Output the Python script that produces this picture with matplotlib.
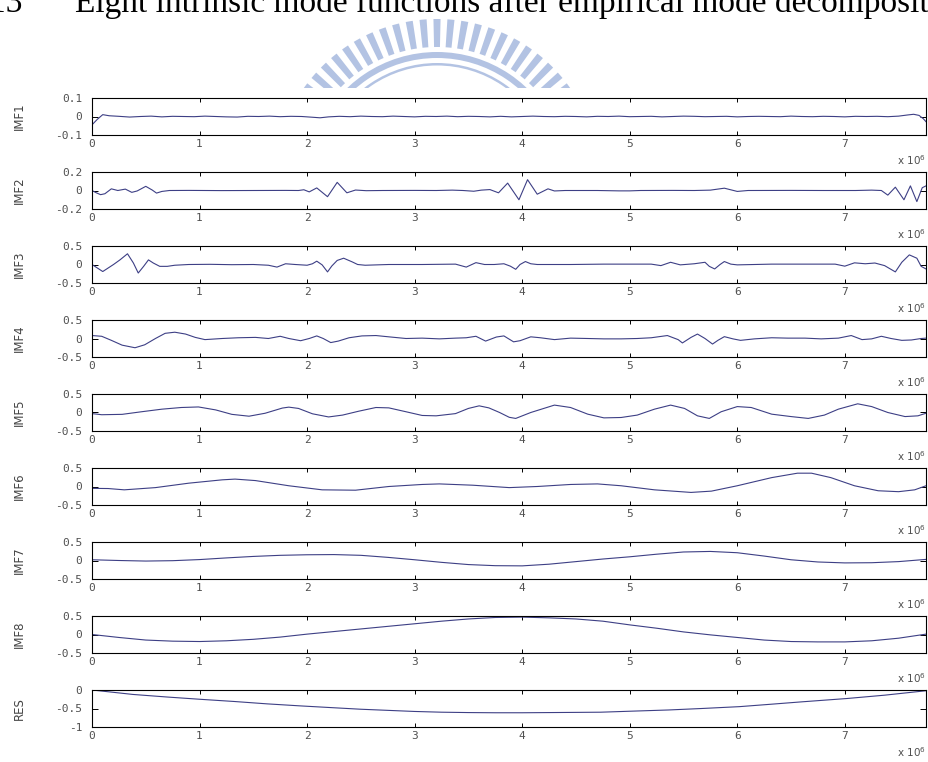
import numpy as np
import matplotlib
matplotlib.use("Agg")
import matplotlib.pyplot as plt
from matplotlib.patches import Wedge, Rectangle

plt.rcParams["axes.unicode_minus"] = False

# ---------------------------------------------------------------------------
# Components of the decomposition; x in units of 10^6 samples
# ---------------------------------------------------------------------------
imf1_x = [0.00, 0.05, 0.10, 0.16, 0.25, 0.35, 0.45, 0.55, 0.65, 0.75,
          0.85, 0.95, 1.05, 1.15, 1.25, 1.35, 1.45, 1.55, 1.65, 1.75,
          1.85, 1.95, 2.05, 2.12, 2.20, 2.30, 2.40, 2.50, 2.60, 2.70,
          2.80, 2.90, 3.00, 3.10, 3.20, 3.30, 3.40, 3.50, 3.60, 3.70,
          3.80, 3.90, 4.00, 4.10, 4.20, 4.30, 4.40, 4.50, 4.60, 4.70,
          4.80, 4.90, 5.00, 5.10, 5.20, 5.30, 5.40, 5.50, 5.60, 5.70,
          5.80, 5.90, 6.00, 6.10, 6.20, 6.30, 6.40, 6.50, 6.60, 6.70,
          6.80, 6.90, 7.00, 7.10, 7.20, 7.30, 7.40, 7.50, 7.58, 7.64,
          7.69, 7.73, 7.755]
imf1_y = [-0.045, -0.015, 0.010, 0.004, 0.001, -0.003, 0.000, 0.002, -0.002, 0.001,
          0.000, -0.001, 0.002, 0.000, -0.002, -0.003, 0.001, 0.000, 0.002, -0.001,
          0.001, 0.000, -0.004, -0.007, -0.002, 0.001, -0.001, 0.002, 0.000, -0.001,
          0.002, 0.000, -0.002, 0.001, 0.000, 0.002, -0.001, 0.001, 0.000, -0.002,
          0.001, -0.002, 0.000, 0.002, 0.000, -0.001, 0.001, 0.000, -0.002, 0.001,
          0.000, 0.002, -0.001, 0.000, 0.001, -0.002, 0.000, 0.002, 0.001, -0.001,
          0.000, 0.001, -0.002, 0.000, 0.001, 0.000, -0.001, 0.002, 0.000, -0.001,
          0.001, 0.000, -0.002, 0.001, 0.000, 0.001, -0.001, 0.002, 0.008, 0.012,
          0.006, -0.012, -0.028]

imf2_x = [0.00, 0.04, 0.08, 0.12, 0.18, 0.24, 0.31, 0.37, 0.42, 0.50,
          0.56, 0.60, 0.65, 0.72, 0.90, 1.20, 1.50, 1.80, 1.92, 1.97,
          2.02, 2.09, 2.19, 2.28, 2.37, 2.45, 2.55, 2.70, 3.00, 3.20,
          3.35, 3.45, 3.55, 3.62, 3.70, 3.78, 3.865, 3.97, 4.05, 4.14,
          4.24, 4.30, 4.40, 4.70, 4.90, 5.00, 5.10, 5.40, 5.60, 5.75,
          5.88, 6.00, 6.10, 6.50, 6.80, 7.10, 7.25, 7.34, 7.40, 7.47,
          7.55, 7.61, 7.67, 7.72, 7.755]
imf2_y = [0.000, -0.025, -0.045, -0.035, 0.018, 0.000, 0.015, -0.020, -0.005, 0.045,
          0.005, -0.028, -0.010, 0.000, 0.001, -0.001, 0.000, 0.001, 0.000, 0.008,
          -0.015, 0.028, -0.067, 0.088, -0.025, 0.005, -0.002, 0.000, 0.001, 0.000,
          0.004, 0.000, -0.008, 0.004, 0.010, -0.025, 0.080, -0.100, 0.117, -0.040,
          0.018, -0.005, 0.000, 0.000, -0.004, -0.004, 0.000, 0.001, 0.000, 0.004,
          0.025, -0.010, 0.000, 0.001, 0.000, 0.000, 0.004, 0.000, -0.050, 0.036,
          -0.100, 0.050, -0.120, 0.030, 0.050]

imf3_x = [0.00, 0.10, 0.20, 0.26, 0.33, 0.385, 0.43, 0.48, 0.525, 0.57,
          0.63, 0.70, 0.77, 0.90, 1.10, 1.30, 1.50, 1.64, 1.72, 1.80,
          1.89, 2.00, 2.05, 2.09, 2.14, 2.19, 2.23, 2.28, 2.34, 2.42,
          2.47, 2.54, 2.76, 3.07, 3.38, 3.48, 3.57, 3.65, 3.74, 3.83,
          3.89, 3.94, 3.98, 4.03, 4.08, 4.14, 4.45, 4.76, 5.20, 5.29,
          5.38, 5.47, 5.60, 5.70, 5.74, 5.79, 5.84, 5.88, 5.94, 6.00,
          6.32, 6.63, 6.91, 7.00, 7.09, 7.19, 7.28, 7.37, 7.47, 7.53,
          7.60, 7.67, 7.71, 7.755]
imf3_y = [0.00, -0.19, 0.00, 0.125, 0.29, 0.04, -0.23, -0.05, 0.125, 0.04,
          -0.05, -0.05, -0.02, 0.00, 0.005, -0.005, 0.00, -0.02, -0.07, 0.02,
          0.00, -0.02, 0.02, 0.09, -0.01, -0.20, -0.04, 0.11, 0.17, 0.07,
          0.00, -0.02, 0.00, 0.00, 0.01, -0.07, 0.05, 0.00, 0.00, 0.02,
          -0.045, -0.13, 0.00, 0.08, 0.02, 0.00, 0.00, 0.01, 0.01, -0.03,
          0.06, -0.01, 0.02, 0.06, -0.05, -0.12, 0.00, 0.08, 0.01, -0.01,
          0.01, 0.01, 0.01, -0.045, 0.045, 0.02, 0.04, -0.03, -0.20, 0.06,
          0.26, 0.17, -0.05, -0.12]

imf4_x = [0.00, 0.09, 0.18, 0.28, 0.40, 0.49, 0.59, 0.68, 0.77, 0.87,
          0.96, 1.05, 1.21, 1.36, 1.52, 1.64, 1.75, 1.83, 1.94, 2.02,
          2.09, 2.15, 2.22, 2.29, 2.39, 2.51, 2.64, 2.76, 2.92, 3.07,
          3.23, 3.38, 3.48, 3.57, 3.66, 3.76, 3.83, 3.92, 3.98, 4.08,
          4.17, 4.30, 4.45, 4.61, 4.76, 4.92, 5.07, 5.20, 5.35, 5.45,
          5.49, 5.57, 5.63, 5.70, 5.77, 5.82, 5.88, 5.96, 6.03, 6.16,
          6.32, 6.47, 6.63, 6.78, 6.94, 7.06, 7.16, 7.25, 7.34, 7.43,
          7.53, 7.62, 7.71, 7.755]
imf4_y = [0.08, 0.06, -0.05, -0.18, -0.25, -0.17, 0.00, 0.14, 0.17, 0.12,
          0.03, -0.03, 0.00, 0.02, 0.03, 0.00, 0.06, 0.00, -0.06, 0.00,
          0.07, 0.00, -0.11, -0.07, 0.02, 0.07, 0.08, 0.045, 0.00, 0.01,
          -0.01, 0.01, 0.02, 0.06, -0.07, 0.04, 0.07, -0.09, -0.06, 0.045,
          0.02, -0.03, 0.01, 0.00, -0.01, -0.01, 0.00, 0.02, 0.08, -0.03,
          -0.12, 0.03, 0.12, 0.00, -0.15, -0.05, 0.05, -0.01, -0.05, -0.01,
          0.02, 0.01, 0.01, -0.01, 0.01, 0.08, -0.03, -0.01, 0.06, 0.00,
          -0.05, -0.04, 0.00, 0.01]

imf5_x = [0.00, 0.09, 0.28, 0.46, 0.65, 0.83, 0.99, 1.15, 1.30, 1.46,
          1.61, 1.77, 1.83, 1.92, 2.05, 2.20, 2.33, 2.48, 2.64, 2.76,
          2.92, 3.07, 3.20, 3.38, 3.50, 3.60, 3.69, 3.79, 3.88, 3.94,
          4.08, 4.30, 4.45, 4.61, 4.76, 4.92, 5.07, 5.23, 5.38, 5.51,
          5.63, 5.74, 5.85, 6.00, 6.13, 6.32, 6.50, 6.66, 6.81, 6.94,
          7.12, 7.25, 7.40, 7.56, 7.68, 7.755]
imf5_y = [-0.03, -0.06, -0.05, 0.02, 0.09, 0.135, 0.15, 0.07, -0.05, -0.10,
          -0.02, 0.12, 0.145, 0.11, -0.035, -0.12, -0.07, 0.035, 0.135, 0.125,
          0.02, -0.08, -0.09, -0.03, 0.11, 0.18, 0.125, 0.00, -0.13, -0.16,
          0.00, 0.20, 0.135, -0.045, -0.145, -0.135, -0.07, 0.09, 0.20, 0.11,
          -0.09, -0.16, 0.02, 0.16, 0.135, -0.045, -0.11, -0.16, -0.07, 0.09,
          0.235, 0.16, 0.00, -0.11, -0.09, -0.02]

imf6_x = [0.00, 0.15, 0.30, 0.59, 0.90, 1.21, 1.33, 1.52, 1.83, 2.14,
          2.45, 2.76, 3.07, 3.23, 3.54, 3.88, 4.14, 4.45, 4.70, 4.92,
          5.23, 5.57, 5.76, 6.00, 6.32, 6.56, 6.69, 6.87, 7.09, 7.31,
          7.50, 7.65, 7.755]
imf6_y = [-0.05, -0.055, -0.09, -0.03, 0.09, 0.18, 0.20, 0.16, 0.02, -0.09,
          -0.10, 0.00, 0.055, 0.07, 0.035, -0.03, 0.00, 0.055, 0.07, 0.02,
          -0.09, -0.16, -0.125, 0.02, 0.24, 0.36, 0.36, 0.24, 0.02, -0.115,
          -0.14, -0.09, 0.02]

imf7_x = [0.00, 0.25, 0.50, 0.75, 1.00, 1.25, 1.50, 1.75, 2.00, 2.25,
          2.50, 2.75, 3.00, 3.25, 3.50, 3.75, 4.00, 4.25, 4.50, 4.75,
          5.00, 5.25, 5.50, 5.75, 6.00, 6.25, 6.50, 6.75, 7.00, 7.25,
          7.50, 7.755]
imf7_y = [0.020, 0.000, -0.015, -0.005, 0.025, 0.070, 0.110, 0.140, 0.155, 0.160,
          0.140, 0.085, 0.020, -0.050, -0.110, -0.140, -0.145, -0.100, -0.030, 0.040,
          0.100, 0.170, 0.230, 0.245, 0.210, 0.120, 0.020, -0.040, -0.065, -0.060,
          -0.030, 0.030]

imf8_x = [0.00, 0.25, 0.50, 0.75, 1.00, 1.25, 1.50, 1.75, 2.00, 2.25,
          2.50, 2.75, 3.00, 3.25, 3.50, 3.75, 4.00, 4.25, 4.50, 4.75,
          5.00, 5.25, 5.50, 5.75, 6.00, 6.25, 6.50, 6.75, 7.00, 7.25,
          7.50, 7.755]
imf8_y = [0.00, -0.08, -0.15, -0.18, -0.19, -0.17, -0.13, -0.07, 0.01, 0.08,
          0.15, 0.22, 0.29, 0.36, 0.42, 0.46, 0.47, 0.45, 0.42, 0.36,
          0.26, 0.17, 0.07, -0.01, -0.08, -0.15, -0.19, -0.20, -0.20, -0.17,
          -0.10, 0.01]

res_x = [0.00, 0.38, 0.70, 1.00, 1.32, 1.63, 1.94, 2.25, 2.50, 2.75,
         3.00, 3.25, 3.50, 3.75, 4.00, 4.25, 4.50, 4.73, 5.04, 5.36,
         5.67, 6.02, 6.29, 6.60, 7.02, 7.37, 7.755]
res_y = [0.00, -0.12, -0.19, -0.25, -0.31, -0.375, -0.43, -0.48, -0.52, -0.55,
         -0.58, -0.60, -0.61, -0.615, -0.615, -0.61, -0.605, -0.60, -0.57, -0.54,
         -0.50, -0.45, -0.39, -0.32, -0.23, -0.14, -0.02]

panel_names = ["IMF1", "IMF2", "IMF3", "IMF4", "IMF5", "IMF6", "IMF7", "IMF8", "RES"]
panel_x = [imf1_x, imf2_x, imf3_x, imf4_x, imf5_x, imf6_x, imf7_x, imf8_x, res_x]
panel_y = [imf1_y, imf2_y, imf3_y, imf4_y, imf5_y, imf6_y, imf7_y, imf8_y, res_y]
panel_yticks = [[-0.1, 0, 0.1], [-0.2, 0, 0.2]] + [[-0.5, 0, 0.5]] * 6 + [[-1, -0.5, 0]]
panel_yticklabels = [["-0.1", "0", "0.1"], ["-0.2", "0", "0.2"]] + \
                    [["-0.5", "0", "0.5"]] * 6 + [["-1", "-0.5", "0"]]
x_ticks = [0, 1, 2, 3, 4, 5, 6, 7]
x_ticklabels = ["0", "1", "2", "3", "4", "5", "6", "7"]
x_max = 7.755

caption_number = "3.13"
caption_text = "Eight intrinsic mode functions after empirical mode decomposition"

# ---------------------------------------------------------------------------
W, H = 929, 762
fig = plt.figure(figsize=(W / 100, H / 100), dpi=100)
fig.patch.set_facecolor("white")

# page decoration: caption line and faint emblem behind the figure
deco = fig.add_axes([0, 0, 1, 1], zorder=-5)
deco.set_xlim(0, W)
deco.set_ylim(H, 0)
deco.axis("off")
emblem_color = "#b3c3e3"
cx, cy = 437, 182
for ang in np.linspace(-54, 54, 23):
    deco.add_patch(Wedge((cx, cy), 163, 270 + ang - 1.25, 270 + ang + 1.25,
                         width=28, facecolor=emblem_color, edgecolor="none"))
deco.add_patch(Wedge((cx, cy), 130, 270 - 68, 270 + 68, width=6,
                     facecolor=emblem_color, edgecolor="none"))
deco.add_patch(Wedge((cx, cy), 119, 270 - 68, 270 + 68, width=2.5,
                     facecolor=emblem_color, edgecolor="none"))
deco.add_patch(Rectangle((0, 88), W, H - 88, facecolor="white", edgecolor="none", zorder=5))

fig.text(-36 / W, 1 - 12 / H, caption_number, fontfamily="Liberation Serif",
         fontsize=24, va="baseline", ha="left")
fig.text(75 / W, 1 - 12 / H, caption_text, fontfamily="Liberation Serif",
         fontsize=24, va="baseline", ha="left")

line_color = "#3d3f85"
tick_color = "#505050"
left_px, right_px = 92, 926
top0, step, height = 98, 74, 37

for i, name in enumerate(panel_names):
    top = top0 + step * i
    ax = fig.add_axes([left_px / W, 1 - (top + height) / H,
                       (right_px - left_px) / W, height / H])
    ax.plot(panel_x[i], panel_y[i], color=line_color, lw=0.8)
    ax.set_xlim(0, x_max)
    yt = panel_yticks[i]
    ax.set_ylim(yt[0], yt[-1])
    ax.set_yticks(yt)
    ax.set_yticklabels(panel_yticklabels[i], fontfamily="DejaVu Sans Mono")
    ax.set_xticks(x_ticks)
    ax.set_xticklabels(x_ticklabels, fontfamily="DejaVu Sans Mono")
    ax.tick_params(axis="x", direction="in", length=3, width=0.7, top=True,
                   labelsize=8, labelcolor=tick_color, pad=3)
    ax.tick_params(axis="y", direction="in", length=4.5, width=0.7, right=True,
                   labelsize=8, labelcolor=tick_color, pad=7)
    for sp in ax.spines.values():
        sp.set_linewidth(0.8)
        sp.set_color("black")
    ax.set_ylabel(name, fontsize=8.5, color="#444444", labelpad=0)
    ax.yaxis.set_label_coords(-66 / (right_px - left_px), 0.5)
    ax.text(1.0, -0.68, r"x 10$^{6}$", transform=ax.transAxes, ha="right",
            va="center", fontsize=7.5, color=tick_color)

fig.savefig("out.png", dpi=100, facecolor="white")
